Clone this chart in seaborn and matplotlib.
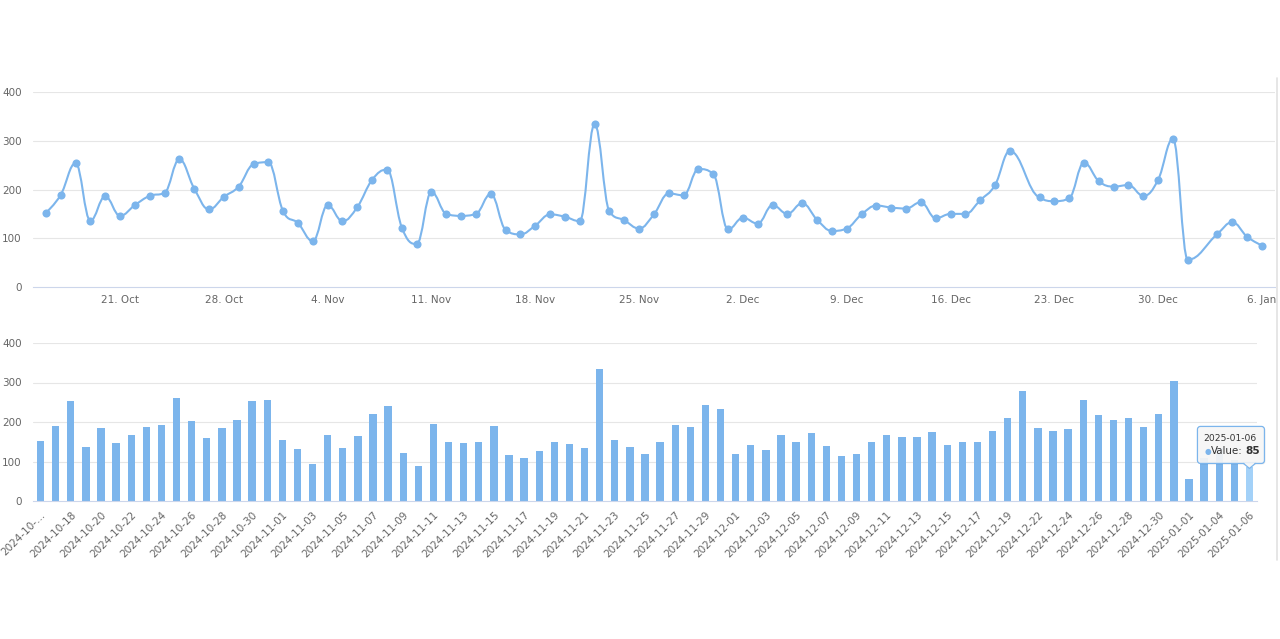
import numpy as np
import pandas as pd
import matplotlib
matplotlib.use("Agg")
import matplotlib.pyplot as plt
import matplotlib.dates as mdates
from matplotlib.path import Path
from matplotlib.patches import PathPatch, FancyBboxPatch, Polygon
from matplotlib.lines import Line2D
import seaborn as sns

# ---------------- data ----------------
dates = (
    [f"2024-10-{d:02d}" for d in range(16, 32)]
    + [f"2024-11-{d:02d}" for d in range(1, 31)]
    + [f"2024-12-{d:02d}" for d in range(1, 32) if d != 21]
    + ["2025-01-01", "2025-01-03", "2025-01-04", "2025-01-05", "2025-01-06"]
)
values = [
    # Oct 16-31
    152, 189, 254, 136, 186, 146, 168, 187, 193, 262, 202, 159, 185, 206, 252, 256,
    # Nov 1-30
    155, 131, 94, 168, 135, 164, 220, 241, 122, 88,
    195, 150, 146, 150, 191, 117, 108, 126, 149, 144,
    135, 334, 155, 137, 120, 149, 192, 188, 242, 232,
    # Dec 1-31 (no 21)
    118, 142, 130, 168, 150, 172, 138, 115, 120, 149,
    167, 163, 161, 174, 141, 150, 150, 178, 209, 279,
    184, 176, 182, 255, 217, 206, 209, 187, 220, 304,
    # Jan
    56, 109, 133, 103, 85,
]
series_name = "Value"
y_ticks = [0, 100, 200, 300, 400]

COLOR = "#7cb5ec"
HOVER = "#a3d1f8"
GRID = "#e6e6e6"
AXIS = "#ccd6eb"
LABEL = "#666666"
FS = 7.5

sns.set_style("white")
plt.rcParams["font.family"] = ["DejaVu Sans"]

fig = plt.figure(figsize=(12.8, 6.39), dpi=100)
W, H = 1280, 639

def fx(px):
    return px / W

def fy(py):
    return 1 - py / H

ax1 = fig.add_axes([fx(33), fy(287), fx(1275) - fx(33), fy(92) - fy(287)])
ax2 = fig.add_axes([fx(33), fy(501), fx(1257) - fx(33), fy(343) - fy(501)])

df = pd.DataFrame({"date": pd.to_datetime(dates), "label": dates, "value": values})
xnum = mdates.date2num(df["date"])
ys = np.asarray(values, dtype=float)

# ---------------- top: spline line ----------------
def spline_path(xs, yv, smoothing=1.5):
    n = len(xs)
    denom = smoothing + 1
    lc = [None] * n
    rc = [None] * n
    for i in range(1, n - 1):
        px, py = xs[i], yv[i]
        lx, ly = xs[i - 1], yv[i - 1]
        nx, ny = xs[i + 1], yv[i + 1]
        lcx = (smoothing * px + lx) / denom
        lcy = (smoothing * py + ly) / denom
        rcx = (smoothing * px + nx) / denom
        rcy = (smoothing * py + ny) / denom
        corr = 0
        if rcx != lcx:
            corr = ((rcy - lcy) * (rcx - px)) / (rcx - lcx) + py - rcy
        lcy += corr
        rcy += corr
        if lcy > ly and lcy > py:
            lcy = max(ly, py)
            rcy = 2 * py - lcy
        elif lcy < ly and lcy < py:
            lcy = min(ly, py)
            rcy = 2 * py - lcy
        if rcy > ny and rcy > py:
            rcy = max(ny, py)
            lcy = 2 * py - rcy
        elif rcy < ny and rcy < py:
            rcy = min(ny, py)
            lcy = 2 * py - rcy
        lc[i] = (lcx, lcy)
        rc[i] = (rcx, rcy)
    verts = [(xs[0], yv[0])]
    codes = [Path.MOVETO]
    for i in range(1, n):
        r = rc[i - 1] if rc[i - 1] is not None else (xs[i - 1], yv[i - 1])
        l = lc[i] if lc[i] is not None else (xs[i], yv[i])
        verts += [r, l, (xs[i], yv[i])]
        codes += [Path.CURVE4] * 3
    return Path(verts, codes)

ax1.add_patch(PathPatch(spline_path(xnum, ys), fill=False, edgecolor=COLOR,
                        linewidth=1.5, capstyle="round", joinstyle="round", zorder=3))
sns.scatterplot(data=df, x="date", y="value", ax=ax1, color=COLOR, s=34,
                linewidth=0, zorder=4, legend=False)

ax1.set_xlim(xnum[0] - 0.87, xnum[-1] + 0.88)
ax1.set_ylim(0, 400)
ax1.set_yticks(y_ticks)
ax1.xaxis.set_major_locator(mdates.WeekdayLocator(byweekday=mdates.MO))
ax1.xaxis.set_major_formatter(
    plt.FuncFormatter(lambda v, p: f"{mdates.num2date(v).day}. {mdates.num2date(v).strftime('%b')}"))

# ---------------- bottom: bars ----------------
sns.barplot(data=df, x="label", y="value", ax=ax2, color=COLOR, width=0.48,
            saturation=1, linewidth=0, order=dates)
bars = ax2.patches
if len(bars):
    bars[-1].set_facecolor(HOVER)
ax2.set_xlim(-0.5, len(dates) - 0.5)
ax2.set_ylim(0, 400)
ax2.set_yticks(y_ticks)
tick_idx = list(range(0, len(dates), 2))
ax2.set_xticks(tick_idx)
labels = [dates[i] for i in tick_idx]
labels[0] = "2024-10-…"
ax2.set_xticklabels(labels, rotation=45, ha="right", rotation_mode="anchor")

for ax in (ax1, ax2):
    ax.set_xlabel("")
    ax.set_ylabel("")
    for s in ("top", "right", "left"):
        ax.spines[s].set_visible(False)
    ax.spines["bottom"].set_color(AXIS)
    ax.spines["bottom"].set_linewidth(0.8)
    ax.spines["bottom"].set_zorder(5)
    for yv in y_ticks[1:]:
        ax.axhline(yv, color=GRID, linewidth=0.8, zorder=0)
    ax.tick_params(axis="y", length=0, pad=8, labelsize=FS, labelcolor=LABEL)
    ax.tick_params(axis="x", length=4, width=0.8, color=AXIS, labelsize=FS,
                   labelcolor=LABEL, pad=2, direction="out")
    ax.set_facecolor("none")
for lab in ax2.get_yticklabels():
    lab.set_ha("right")

# ---------------- tooltip ----------------
ax_x, ax_y = ax2.transData.transform((len(dates) - 1, values[-1]))
bx0, bx1 = ax_x - 52, ax_x + 15
by0, by1 = ax_y + 4, ax_y + 41
shadow = FancyBboxPatch((bx0 + 1, by0 - 1), bx1 - bx0, by1 - by0,
                        boxstyle="round,pad=0,rounding_size=3", transform=None,
                        facecolor="#000000", alpha=0.08, edgecolor="none", zorder=9)
box = FancyBboxPatch((bx0, by0), bx1 - bx0, by1 - by0,
                     boxstyle="round,pad=0,rounding_size=3", transform=None,
                     facecolor=(0.97, 0.97, 0.97, 0.92), edgecolor=COLOR,
                     linewidth=0.9, zorder=10)
tri = Polygon([(ax_x - 6, by0 + 0.8), (ax_x + 6, by0 + 0.8), (ax_x, ax_y - 1)],
              closed=True, transform=None, facecolor=(0.97, 0.97, 0.97, 0.95),
              edgecolor="none", zorder=11)
tri_edge = Line2D([ax_x - 6, ax_x, ax_x + 6], [by0, ax_y - 1, by0], transform=None,
                  color=COLOR, linewidth=0.9, zorder=11)
fig.add_artist(shadow)
fig.add_artist(box)
fig.add_artist(tri)
fig.add_artist(tri_edge)
fig.text(ax_x - 46, ax_y + 29, dates[-1], transform=None, fontsize=6.6,
         color="#333333", va="center", ha="left", zorder=12)
fig.text(ax_x - 45, ax_y + 16, "●", transform=None, fontsize=5.5, color=COLOR,
         va="center", ha="left", zorder=12)
fig.text(ax_x - 7, ax_y + 16, f"{series_name}:", transform=None, fontsize=7.4,
         color="#333333", va="center", ha="right", zorder=12)
fig.text(ax_x - 4, ax_y + 16, f"{values[-1]}", transform=None, fontsize=7.6,
         color="#333333", va="center", ha="left", fontweight="bold", zorder=12)

# page scrollbar line at right edge
fig.add_artist(Line2D([fx(1277), fx(1277)], [fy(78), fy(560)], transform=fig.transFigure,
                      color="#e2e2e2", linewidth=1.2))

fig.savefig("out.png", dpi=100)
